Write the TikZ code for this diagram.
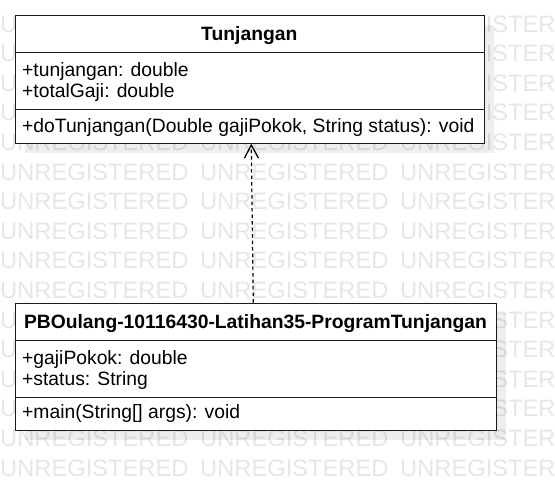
\documentclass[tikz,border=0pt]{standalone}
\usepackage{fontspec}
\setmainfont{Liberation Sans}
\usetikzlibrary{arrows.meta,calc}
\definecolor{wmgray}{HTML}{E6E6E6}
\definecolor{ink}{HTML}{1A1A1A}
\tikzset{
  wm/.style={text=wmgray, inner sep=0pt, anchor=base west, font=\fontsize{23.7}{26}\selectfont},
  umlbox/.style={draw=ink, fill=white, line width=1.2pt, inner sep=0pt, anchor=north west},
  shadowbox/.style={fill=black, fill opacity=0.065},
  divider/.style={draw=ink, line width=1.2pt},
  txt/.style={inner sep=0pt, anchor=base west, text=black, font=\fontsize{19.3}{21}\selectfont},
  ttl/.style={inner sep=0pt, anchor=base, text=black, font=\fontsize{19.3}{21}\selectfont\bfseries},
  realize/.style={draw=black, line width=1.2pt, dash pattern=on 3.5pt off 3pt, -{Straight Barb[length=13pt,width=14pt,line width=1.3pt]}}
}
\begin{document}
\begin{tikzpicture}[x=1pt,y=-1pt]
\useasboundingbox (0,0) rectangle (555,490);
\clip (0,0) rectangle (555,490);
% watermark
\foreach \k in {0,...,15}{
  \foreach \x in {0,200,400}{
    \node[wm] (w-\k-\x) at (\x,{32+29.6*\k}) {UNREGISTERED};
  }
}
% shadows
\fill[shadowbox] (25,25) rectangle (493.5,152.5);
\fill[shadowbox] (25,312.7) rectangle (506,440);
% top class
\node[umlbox, minimum width=468.5pt, minimum height=127.5pt] (tj) at (15,15) {};
\draw[divider] (15,52.3) -- (483.5,52.3);
\draw[divider] (15,109.3) -- (483.5,109.3);
\node[ttl] (tjname) at (249.3,40.5) {Tunjangan};
\node[txt] (tja1) at (22,76.7) {+tunjangan: double};
\node[txt] (tja2) at (22,97.7) {+totalGaji: double};
\node[txt] (tjm1) at (22,132) {+doTunjangan(Double gajiPokok, String status): void};
% bottom class
\node[umlbox, minimum width=481pt, minimum height=127.3pt] (pg) at (15,302.7) {};
\draw[divider] (15,340.7) -- (496,340.7);
\draw[divider] (15,397.3) -- (496,397.3);
\node[ttl] (pgname) at (255.5,328) {PBOulang-10116430-Latihan35-ProgramTunjangan};
\node[txt] (pga1) at (22,364) {+gajiPokok: double};
\node[txt] (pga2) at (22,385) {+status: String};
\node[txt] (pgm1) at (22,418) {+main(String[] args): void};
% realization
\coordinate (from) at ($(pg.north)+(-2.8,0)$);
\coordinate (to) at ($(tj.south)+(1.4,0)$);
\draw[realize] (from) -- (to);
\end{tikzpicture}
\end{document}
